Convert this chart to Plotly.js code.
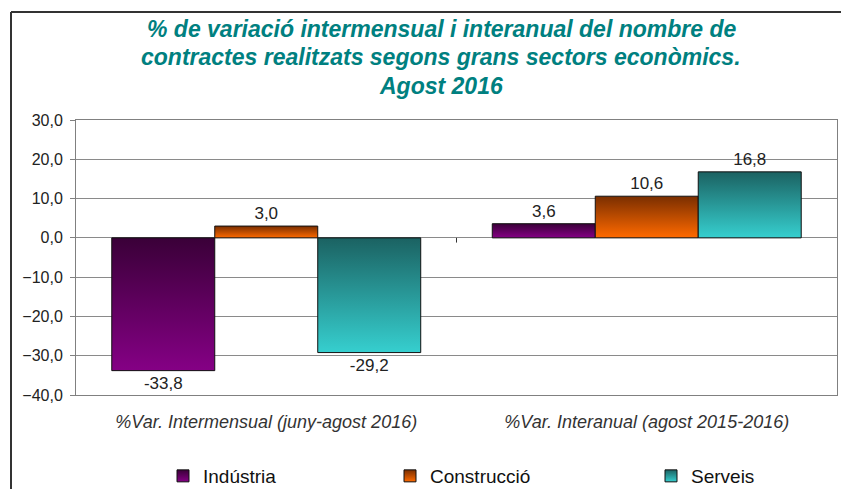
<!DOCTYPE html>
<html>
<head>
<meta charset="utf-8">
<script src="https://cdn.plot.ly/plotly-3.0.1.min.js"></script>
<style>
html,body{margin:0;padding:0;background:#fff;}
#chart{width:841px;height:489px;}
</style>
</head>
<body>
<div id="chart"></div>
<script>
// ---- data ----
const categories = ["%Var. Intermensual (juny-agost 2016)", "%Var. Interanual (agost 2015-2016)"];
const seriesNames = ["Indústria", "Construcció", "Serveis"];
const industria = [-33.8, 3.6];
const construccio = [3.0, 10.6];
const serveis = [-29.2, 16.8];
const titleLines = [
  "% de variació intermensual i interanual del nombre de",
  "contractes realitzats segons grans sectors econòmics.",
  "Agost 2016"
];
const yTicks = [-40, -30, -20, -10, 0, 10, 20, 30];

// ---- styling ----
const FONT = "Liberation Sans, Arial, sans-serif";
const solid = ["#600060", "#c05000", "#2aa8a8"];
const gradTop = ["#3a0038", "#7a2e00", "#1b6262"];
const gradBot = ["#850085", "#ff6a00", "#36cfcf"];
const legendIds = ["legend", "legend2", "legend3"];
const seriesValues = [industria, construccio, serveis];

const traces = seriesValues.map((vals, i) => ({
  type: "bar",
  name: seriesNames[i],
  x: categories,
  y: vals,
  marker: {color: solid[i], line: {color: "#111", width: 1}},
  texttemplate: "%{y:.1f}",
  textposition: "outside",
  textfont: {family: FONT, size: 17, color: "#222"},
  cliponaxis: false,
  legend: legendIds[i],
  hoverinfo: "none"
}));

// plot area in pixels: left 76, right 837, top 120, bottom 395
const PL = 76, PR = 837, PT = 120, PB = 395;
const W = 841, H = 489;
const px = x => (x - PL) / (PR - PL);
const py = y => (PB - y) / (PB - PT);

const titleY = [29, 57, 86];
const annotations = titleLines.map((t, i) => ({
  text: "<b><i>" + t + "</i></b>",
  xref: "paper", yref: "paper",
  x: px(441), y: py(titleY[i]),
  xanchor: "center", yanchor: "middle",
  showarrow: false,
  font: {family: FONT, size: 23, color: "#008080"}
}));

const legendX = [163, 390, 651];
const legendCommon = {
  orientation: "h",
  yanchor: "middle",
  xanchor: "left",
  font: {family: FONT, size: 19, color: "#111"},
  bgcolor: "rgba(0,0,0,0)",
  borderwidth: 0,
  tracegroupgap: 0,
  itemclick: false, itemdoubleclick: false
};

const layout = {
  width: W, height: H,
  margin: {l: PL, r: W - PR, t: PT, b: H - PB, pad: 0, autoexpand: false},
  paper_bgcolor: "#fff",
  plot_bgcolor: "#fff",
  separators: ",.",
  barmode: "group",
  bargap: 0.188,
  bargroupgap: 0,
  showlegend: true,
  font: {family: FONT, color: "#222"},
  annotations: annotations,
  legend: Object.assign({}, legendCommon, {x: px(legendX[0]), y: py(476)}),
  legend2: Object.assign({}, legendCommon, {x: px(legendX[1]), y: py(476)}),
  legend3: Object.assign({}, legendCommon, {x: px(legendX[2]), y: py(476)}),
  xaxis: {
    type: "category",
    showgrid: false,
    ticks: "",
    showline: true, mirror: true, linecolor: "#808080", linewidth: 1,
    tickfont: {family: FONT, size: 18, color: "#333", style: "italic"},
    ticklabelstandoff: 10,
    fixedrange: true
  },
  yaxis: {
    range: [-40, 30],
    tickvals: yTicks,
    tickformat: ".1f",
    showgrid: true, gridcolor: "#8a8a8a", gridwidth: 1,
    zeroline: true, zerolinecolor: "#8a8a8a", zerolinewidth: 1,
    showline: true, mirror: true, linecolor: "#808080", linewidth: 1,
    ticks: "outside", ticklen: 5, tickcolor: "#808080",
    tickfont: {family: FONT, size: 16, color: "#222"},
    ticklabelstandoff: 4,
    fixedrange: true
  },
  shapes: [
    // outer chart frame (top and left edges visible)
    {type: "line", xref: "paper", yref: "paper", x0: px(11), x1: px(842), y0: py(12), y1: py(12), line: {color: "#333", width: 2}},
    {type: "line", xref: "paper", yref: "paper", x0: px(11), x1: px(11), y0: py(12), y1: py(490), line: {color: "#333", width: 2}},
    // category boundary tick on the zero line
    {type: "line", xref: "x", yref: "y", x0: 0.5, x1: 0.5, y0: 0, y1: -1.2, line: {color: "#333", width: 1}}
  ]
};

Plotly.newPlot("chart", traces, layout, {displayModeBar: false, staticPlot: true}).then(gd => {
  const svg = gd.querySelector(".main-svg");
  let defs = svg.querySelector("defs");
  if (!defs) { defs = document.createElementNS("http://www.w3.org/2000/svg", "defs"); svg.insertBefore(defs, svg.firstChild); }
  const NS = "http://www.w3.org/2000/svg";
  gradTop.forEach((c, i) => {
    const lg = document.createElementNS(NS, "linearGradient");
    lg.setAttribute("id", "barGrad" + i);
    lg.setAttribute("x1", "0"); lg.setAttribute("y1", "0");
    lg.setAttribute("x2", "0"); lg.setAttribute("y2", "1");
    const s1 = document.createElementNS(NS, "stop");
    s1.setAttribute("offset", "0"); s1.setAttribute("stop-color", c);
    const s2 = document.createElementNS(NS, "stop");
    s2.setAttribute("offset", "1"); s2.setAttribute("stop-color", gradBot[i]);
    lg.appendChild(s1); lg.appendChild(s2);
    defs.appendChild(lg);
  });
  const barTraces = gd.querySelectorAll(".barlayer .trace");
  barTraces.forEach((t, i) => {
    t.querySelectorAll(".point path").forEach(p => { p.style.fill = "url(#barGrad" + i + ")"; });
  });
  legendIds.forEach((id, i) => {
    gd.querySelectorAll("." + id + " .legendpoints path").forEach(p => { p.style.fill = "url(#barGrad" + i + ")"; });
  });
});
</script>
</body>
</html>
